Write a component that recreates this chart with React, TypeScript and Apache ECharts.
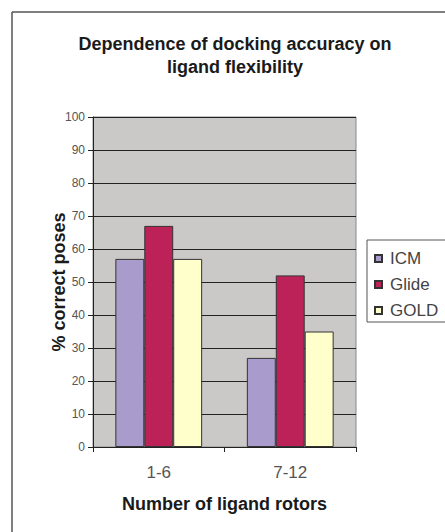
import React, { useEffect, useRef } from "react";
import * as echarts from "echarts";

const categories = ["1-6", "7-12"];
const seriesNames = ["ICM", "Glide", "GOLD"];
const icmValues = [57, 27];
const glideValues = [67, 52];
const goldValues = [57, 35];
const yTicks = { min: 0, max: 100, interval: 10 };

const FONT = "Arial, 'Liberation Sans', Helvetica, sans-serif";

export default function App() {
  const ref = useRef<HTMLDivElement>(null);
  useEffect(() => {
    document.body.style.margin = "0";
    const chart = echarts.init(ref.current!, null, { renderer: "svg" });
    const colors = ["#a99bcc", "#bc2158", "#ffffcc"];
    const values = [icmValues, glideValues, goldValues];
    chart.setOption({
      animation: false,
      backgroundColor: "#ffffff",
      textStyle: { fontFamily: FONT },
      title: {
        text: "Dependence of docking accuracy on\nligand flexibility",
        left: 235,
        top: 32,
        padding: 0,
        textAlign: "center",
        textStyle: { fontFamily: FONT, fontSize: 18, fontWeight: "bold", color: "#1a1a1a", lineHeight: 23 },
      },
      graphic: [
        { type: "line", shape: { x1: 12, y1: 12, x2: 445, y2: 12 }, style: { stroke: "#555", lineWidth: 1.5 } },
        { type: "line", shape: { x1: 12, y1: 12, x2: 12, y2: 532 }, style: { stroke: "#555", lineWidth: 1.5 } },
        { type: "rect", shape: { x: 367, y: 240, width: 100, height: 82 }, style: { fill: "#fff", stroke: "#555", lineWidth: 1 }, z: -1 },
      ],
      legend: {
        orient: "vertical",
        left: 374,
        top: 250,
        padding: 0,
        itemWidth: 7,
        itemHeight: 7,
        itemGap: 9,
        icon: "rect",
        data: seriesNames,
        textStyle: { fontFamily: FONT, fontSize: 17, color: "#444", padding: [0, 0, 0, 3] },
      },
      grid: {
        left: 93,
        top: 117,
        right: 445 - 356,
        bottom: 532 - 447,
        show: true,
        backgroundColor: "#cbc9c7",
        borderColor: "#888",
        borderWidth: 1,
        containLabel: false,
      },
      xAxis: {
        type: "category",
        data: categories,
        name: "Number of ligand rotors",
        nameLocation: "middle",
        nameGap: 48,
        nameMoveOverlap: false,
        nameTextStyle: { fontFamily: FONT, fontSize: 18, fontWeight: "bold", color: "#1a1a1a" },
        axisLine: { lineStyle: { color: "#222", width: 1 } },
        axisTick: { show: true, length: 5, lineStyle: { color: "#222" } },
        axisLabel: { fontFamily: FONT, fontSize: 17, color: "#555", margin: 17 },
      },
      yAxis: {
        type: "value",
        min: yTicks.min,
        max: yTicks.max,
        interval: yTicks.interval,
        name: "% correct poses",
        nameLocation: "middle",
        nameGap: 25,
        nameMoveOverlap: false,
        nameTextStyle: { fontFamily: FONT, fontSize: 18, fontWeight: "bold", color: "#1a1a1a" },
        axisLine: { show: true, lineStyle: { color: "#222", width: 1 } },
        axisTick: { show: true, length: 5, lineStyle: { color: "#222" } },
        axisLabel: { fontFamily: FONT, fontSize: 12, color: "#555", margin: 8 },
        splitLine: { show: true, lineStyle: { color: "#222", width: 1 } },
      },
      series: seriesNames.map((name, i) => ({
        name,
        type: "bar",
        data: values[i],
        barGap: "0%",
        barCategoryGap: "34%",
        itemStyle: { color: colors[i], borderColor: "#333", borderWidth: 1 },
      })),
    });
    return () => chart.dispose();
  }, []);
  return <div ref={ref} style={{ width: 445, height: 532 }} />;
}
